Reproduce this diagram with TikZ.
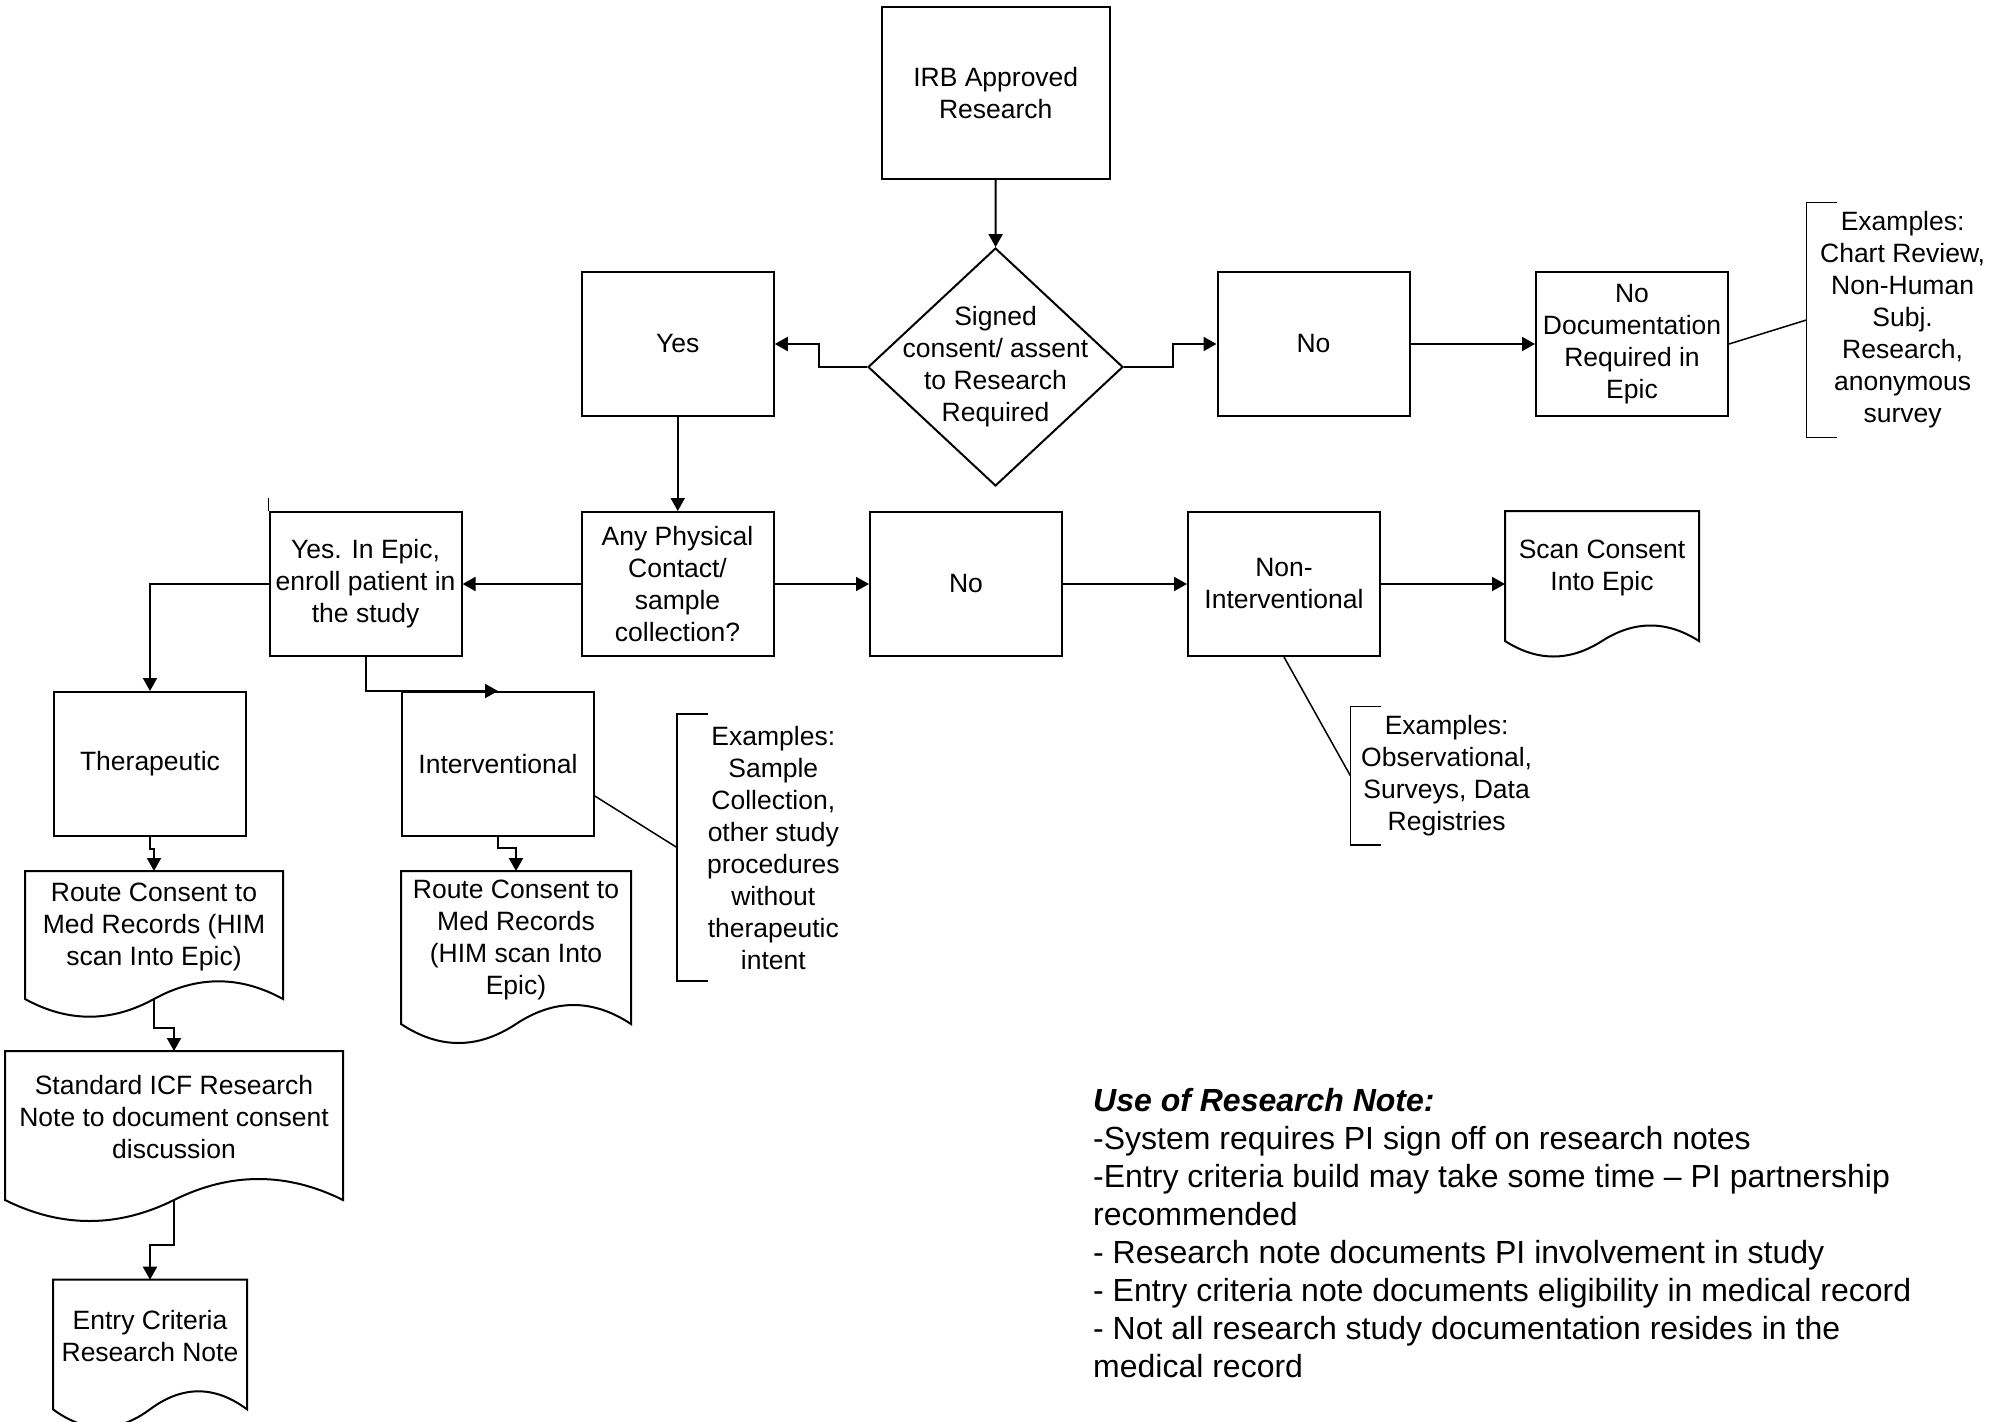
\documentclass[tikz,border=0pt]{standalone}
\usepackage{fontspec}
\setmainfont{Liberation Sans}
\usetikzlibrary{shapes.geometric,arrows.meta,calc}

\tikzset{
  box/.style={draw, line width=2pt, minimum width=192pt, minimum height=144pt, inner sep=0pt, align=center, font=\fontsize{26.5}{32}\selectfont},
  docbox/.style={box, draw=none},
  decision/.style={draw, diamond, line width=2pt, minimum width=255pt, minimum height=238pt, inner sep=0pt},
  note/.style={minimum width=192pt, inner sep=0pt, align=center, font=\fontsize{26.5}{32}\selectfont},
  flow/.style={line width=2pt, -{Triangle[length=13pt,width=14pt]}},
  link/.style={line width=1.5pt},
}

\newcommand{\docshape}[2]{%
  \path[draw,line width=2pt] let \p1=($(#1.south west)+(0,16)$), \p2=($(#1.south east)+(0,16)$),
    \n1={(\x2-\x1)/6}, \n2={4/3*#2} in
    (\p1) -- (#1.north west) -- (#1.north east) -- (\p2)
    .. controls +({-\n1},{-\n2}) and +({\n1},{-\n2}) .. ($(\p1)!0.5!(\p2)$)
    .. controls +({-\n1},{\n2}) and +({\n1},{\n2}) .. (\p1) -- cycle;
  \coordinate (#1-w) at ($(#1.south)+(0,16)$);
}
\newcommand{\exbracket}[1]{%
  \path[draw,link] ($(#1.north west)+(31,0)$) -- (#1.north west) -- (#1.south west) -- ++(31,0);
}

\begin{document}
\begin{tikzpicture}[x=1pt,y=-1pt]
\useasboundingbox (0,0) rectangle (2007,1421);

\node[box, minimum width=228.5pt, minimum height=172pt] (irb) at (995.75,93) {IRB Approved\\Research};
\node[decision, label={[note]center:Signed\\consent/ assent\\to Research\\Required}] (consent) at (995.5,367) {};

\node[box] (yes) at (677.75,344) {Yes};
\node[box] (no) at (1313.5,344) {No};
\node[box] (nodoc) at (1632,344) {No\\Documentation\\Required in\\Epic};
\node[note, minimum height=234.6pt] (exnodoc) at (1902.6,320) {Examples:\\Chart Review,\\Non-Human\\Subj.\\Research,\\anonymous\\survey};

\node[box] (contact) at (677.5,584) {Any Physical\\Contact/\\sample\\collection?};
\node[box] (enroll) at (365.6,584) {Yes. In Epic,\\enroll patient in\\the study};
\node[box] (nocontact) at (966,584) {No};
\node[box] (nonint) at (1284,584) {Non-\\Interventional};
\node[docbox, minimum height=112pt] (scan) at (1602,568) {Scan Consent\\Into Epic};
\node[note, minimum height=138.3pt] (exnonint) at (1446.6,775.8) {Examples:\\Observational,\\Surveys, Data\\Registries};

\node[box] (thera) at (150,764) {Therapeutic};
\node[box] (interv) at (498,764) {Interventional};
\node[note, minimum height=266.7pt] (exinterv) at (773.3,847.6) {Examples:\\Sample\\Collection,\\other study\\procedures\\without\\therapeutic\\intent};

\node[docbox, minimum width=256pt, minimum height=110pt] (route1) at (154,927) {Route Consent to\\Med Records (HIM\\scan Into Epic)};
\node[docbox, minimum width=228pt, minimum height=135pt] (route2) at (516,939.5) {Route Consent to\\Med Records\\(HIM scan Into\\Epic)};
\node[docbox, minimum width=336pt, minimum height=131pt] (icf) at (174,1117.5) {Standard ICF Research\\Note to document consent\\discussion};
\node[docbox, minimum height=111.6pt] (entry) at (150,1336.5) {Entry Criteria\\Research Note};

\node[anchor=north west, align=left, inner sep=0pt, font=\fontsize{32}{38}\selectfont] (usenote) at (1093,1088) {\textbf{\textit{Use of Research Note:}}\\-System requires PI sign off on research notes\\-Entry criteria build may take some time – PI partnership\\recommended\\- Research note documents PI involvement in study\\- Entry criteria note documents eligibility in medical record\\- Not all research study documentation resides in the\\medical record};

\docshape{scan}{15.5}
\docshape{route1}{17.7}
\docshape{route2}{19}
\docshape{icf}{21}
\docshape{entry}{18}

\exbracket{exnodoc}
\exbracket{exnonint}
\exbracket{exinterv}

\path[draw,flow] (irb) -- (consent);
\path[draw,flow] (consent.west) -- ++(-48,0) |- (yes.east);
\path[draw,flow] (consent.east) -- ++(49,0) |- (no.west);
\path[draw,flow] (no) -- (nodoc);
\path[draw,link] (nodoc.east) -- (exnodoc.west);

\path[draw,flow] (yes.south) -- (yes.south |- contact.north);
\path[draw,flow] (contact) -- (enroll);
\path[draw,flow] (contact) -- (nocontact);
\path[draw,flow] (nocontact) -- (nonint);
\path[draw,flow] (nonint.east) -- (nonint.east -| scan.west);
\path[draw,link] (nonint.south) -- (exnonint.west);

\path[draw,link] (enroll.north west) -- ++(0,-13);
\path[draw,flow] (enroll.west) -| (thera.north);
\path[draw,flow] (enroll.south) |- (interv.north);
\path[draw,flow] (thera.south) -- ++(0,12) -| (route1.north);
\path[draw,flow] (interv.south) -- ++(0,11) -| (route2.north);
\path[draw,link] ($(interv.north east)!0.72!(interv.south east)$) -- (exinterv.west);

\path[draw,flow] (route1-w) -- ++(0,29) -| (icf.north);
\path[draw,flow] (icf-w) -- ++(0,45) -| (entry.north);
\end{tikzpicture}
\end{document}
